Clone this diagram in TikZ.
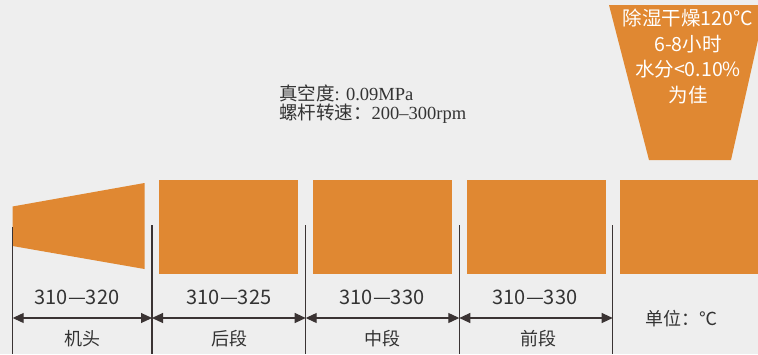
\documentclass[tikz,border=0pt]{standalone}
\usepackage{fontspec}
\setmainfont{Liberation Serif}
\newfontfamily\cjk{Noto Sans CJK SC}
\usetikzlibrary{arrows.meta}
\definecolor{bg}{HTML}{EEEEEE}
\definecolor{org}{HTML}{E08832}
\definecolor{ln}{HTML}{3A3333}
\definecolor{tx}{HTML}{333333}
\tikzset{
  zone/.style={fill=org, draw=none, inner sep=0pt, minimum width=139pt, minimum height=94pt},
  divider/.style={draw=ln, line width=1.1pt},
  dim/.style={draw=ln, line width=1.1pt, {Triangle[length=11pt,width=10pt]}-{Triangle[length=11pt,width=10pt]}},
  temp/.style={font=\cjk\fontsize{20}{22}\selectfont, text=tx, inner sep=0pt},
  part/.style={font=\cjk\fontsize{18}{22}\selectfont, text=tx, inner sep=0pt},
}
\begin{document}
\begin{tikzpicture}[x=1pt,y=-1pt]
\fill[bg] (0,0) rectangle (758,354);
\useasboundingbox (0,0) rectangle (758,354);
% hopper
\fill[org] (609,5) -- (758,5) -- (758,40) -- (731,160) -- (649,160) -- cycle;
\node[font=\cjk\fontsize{19.5}{25.5}\selectfont, text=white, align=center, inner sep=0pt, anchor=north] (hop) at (688,9)
  {除湿干燥120°C\\6-8小时\\水分<0.10\%\\为佳};
% nozzle
\fill[org] (12.5,206.5) -- (144.5,183) -- (144.5,269) -- (12.5,246) -- cycle;
% zones
\node[zone, anchor=north west] (z1) at (159,180) {};
\node[zone, anchor=north west] (z2) at (313,180) {};
\node[zone, anchor=north west] (z3) at (467,180) {};
\node[zone, anchor=north west, minimum width=140pt] (z4) at (620,180) {};
% text
\node[anchor=west, inner sep=0pt, text=tx, align=left, font=\fontsize{18.5}{18.5}\selectfont] (info) at (279,104)
  {{\cjk 真空度}: 0.09MPa\\{\cjk 螺杆转速：}200–300rpm};
% dividers
\foreach \i/\x/\t in {0/12.7/227, 1/152/225, 2/305.7/225, 3/459.3/225, 4/612.7/225}{
  \coordinate (t\i) at (\x,\t);
  \coordinate (b\i) at (\x,354);
  \coordinate (a\i) at (\x,318);
  \draw[divider] (t\i) -- (b\i);
}
\draw[dim] (a0) -- (a1);
\draw[dim] (a1) -- (a2);
\draw[dim] (a2) -- (a3);
\draw[dim] (a3) -- (a4);
% labels
\node[temp] (l1) at (77,297) {310—320};
\node[temp] (l2) at (229,297) {310—325};
\node[temp] (l3) at (382,297) {310—330};
\node[temp] (l4) at (535,297) {310—330};
\node[part] (p1) at (82,339) {机头};
\node[part] (p2) at (229,339) {后段};
\node[part] (p3) at (382,339) {中段};
\node[part] (p4) at (538,339) {前段};
\node[part] (unit) at (681,319) {单位：℃};
\end{tikzpicture}
\end{document}
